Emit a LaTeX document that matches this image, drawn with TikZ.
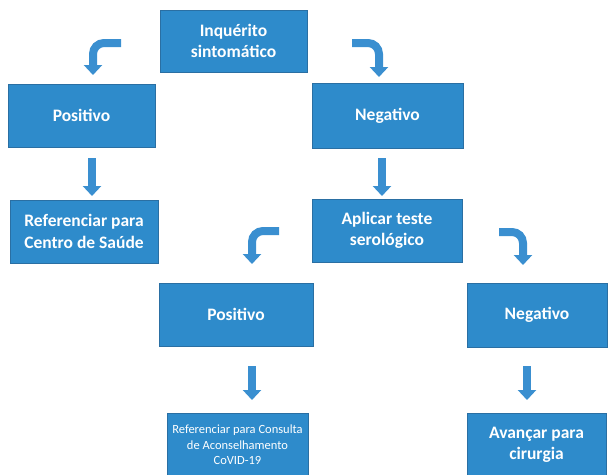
\documentclass[tikz,border=0pt]{standalone}
\usepackage{fontspec}
\setmainfont{Carlito}
\usetikzlibrary{arrows.meta}
\definecolor{boxblue}{HTML}{2E8BCB}
\definecolor{boxedge}{HTML}{2A6FA3}
\definecolor{arrblue}{HTML}{3A8FD0}
\tikzset{
  flowbox/.style={rectangle, fill=boxblue, draw=boxedge, line width=0.8pt,
    text=white, align=center, inner sep=2pt,
    font=\bfseries\fontsize{17.5}{21.5}\selectfont},
  blockarrow/.style={draw=arrblue, line width=8pt, rounded corners=11pt,
    -{Triangle[width=18pt,length=10pt]}},
}
\begin{document}
\begin{tikzpicture}[x=1pt,y=-1pt]
\useasboundingbox (0,0) rectangle (610,474);
\node[flowbox, minimum width=147pt, minimum height=62pt] (top) at (233.5,41) {Inquérito\\sintomático};
\node[flowbox, minimum width=147pt, minimum height=63pt] (pos1) at (81.5,115.5) {Positivo};
\node[flowbox, minimum width=151pt, minimum height=65pt] (neg1) at (387.5,115.5) {Negativo};
\node[flowbox, minimum width=148pt, minimum height=63pt] (ref1) at (84,231.5) {Referenciar para\\Centro de Saúde};
\node[flowbox, minimum width=150pt, minimum height=63pt] (sero) at (387,230.5) {Aplicar teste\\serológico};
\node[flowbox, minimum width=154pt, minimum height=63pt] (pos2) at (236,314.5) {Positivo};
\node[flowbox, minimum width=140pt, minimum height=64pt] (neg2) at (537,315) {Negativo};
\node[flowbox, minimum width=141pt, minimum height=64pt, font=\fontsize{12.5}{15.5}\selectfont] (ref2) at (237.5,445) {Referenciar para Consulta\\de Aconselhamento\\CoVID-19};
\node[flowbox, minimum width=139pt, minimum height=64pt] (cir) at (536.5,445) {Avançar para\\cirurgia};

\coordinate (a1s) at (121,43);  \coordinate (a1e) at (93,75);
\coordinate (a2s) at (352,43);  \coordinate (a2e) at (379,77);
\coordinate (a3s) at (92,158);  \coordinate (a3e) at (92,196);
\coordinate (a4s) at (382,158); \coordinate (a4e) at (382,196);
\coordinate (a5s) at (279,231); \coordinate (a5e) at (252,264);
\coordinate (a6s) at (499,232); \coordinate (a6e) at (523,265);
\coordinate (a7s) at (252,366); \coordinate (a7e) at (252,400);
\coordinate (a8s) at (527,366); \coordinate (a8e) at (527,400);

\draw[blockarrow] (a1s) -| (a1e);
\draw[blockarrow] (a2s) -| (a2e);
\draw[blockarrow] (a3s) -- (a3e);
\draw[blockarrow] (a4s) -- (a4e);
\draw[blockarrow] (a5s) -| (a5e);
\draw[blockarrow] (a6s) -| (a6e);
\draw[blockarrow] (a7s) -- (a7e);
\draw[blockarrow] (a8s) -- (a8e);
\end{tikzpicture}
\end{document}
